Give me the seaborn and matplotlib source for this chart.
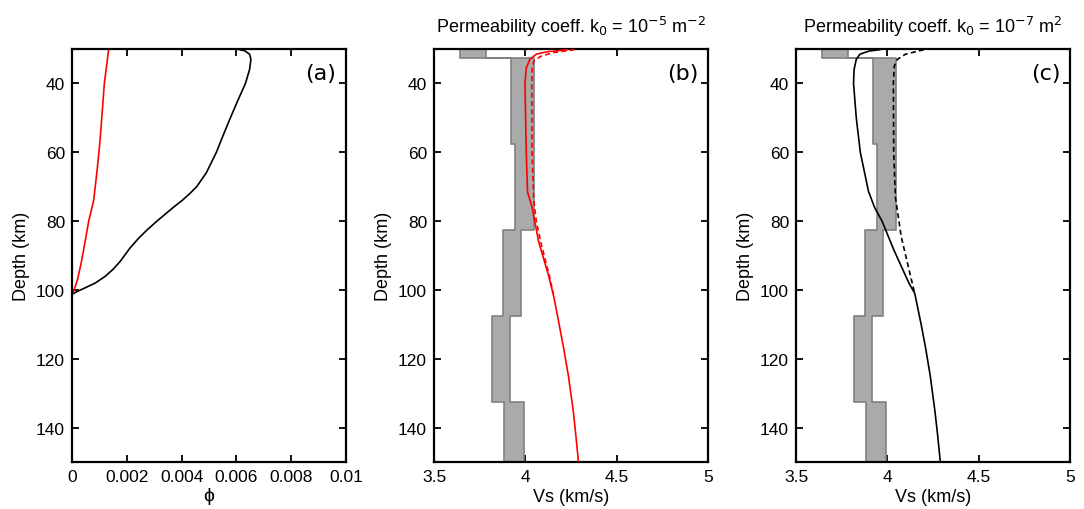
import matplotlib
matplotlib.use("Agg")
import matplotlib.pyplot as plt
import seaborn as sns

# porosity profiles, panel (a)
phi_black_depth = [30, 30.5, 31.5, 33, 36, 40, 45, 50, 56, 60, 66, 70, 72, 74, 76, 78, 80, 82.5, 85, 88,
                   91.7, 94, 96, 98, 99.5, 100.5, 101.3, 150]
phi_black = [0.0060, 0.0063, 0.00648, 0.00653, 0.00648, 0.00633, 0.00605, 0.00578, 0.00547, 0.00527,
             0.0049, 0.00455, 0.0043, 0.00402, 0.0037, 0.0034, 0.0031, 0.00275, 0.00243, 0.0021,
             0.00176, 0.0015, 0.00122, 0.00085, 0.00045, 0.00018, 0.0, 0.0]
phi_red_depth = [30, 40, 56, 65, 74, 80, 85, 92, 97, 100, 101.5, 150]
phi_red = [0.00134, 0.00118, 0.00103, 0.00092, 0.00079, 0.00061, 0.0005, 0.00034, 0.0002, 0.00008, 0.0, 0.0]

# observed Vs range (grey band), layer tops
band_depth = [30, 32.5, 57.5, 82.5, 107.5, 132.5, 150]
band_min = [3.64, 3.92, 3.945, 3.88, 3.82, 3.885, 3.885]
band_max = [3.785, 4.045, 4.05, 3.975, 3.915, 3.99, 3.99]

# panel (b), k0 = 1e-5
b_solid_depth = [30.2, 30.8, 31.5, 33, 35.5, 40, 60, 71.5, 76, 86, 96, 102, 110, 117, 125, 135, 142, 150]
b_solid_vs = [4.23, 4.12, 4.06, 4.025, 4.005, 3.998, 4.005, 4.012, 4.037, 4.073, 4.128, 4.156,
              4.185, 4.21, 4.236, 4.262, 4.276, 4.291]
b_dash_depth = [30.2, 31, 32, 33.2, 35, 40, 60, 73.8, 80, 86.4, 96, 101]
b_dash_vs = [4.27, 4.16, 4.09, 4.05, 4.038, 4.035, 4.037, 4.046, 4.06, 4.086, 4.132, 4.153]

# panel (c), k0 = 1e-7
c_solid_depth = [30.2, 30.6, 31.5, 33, 36, 40, 50, 60, 71.4, 76, 80, 88.3, 98, 101, 110, 117, 125, 135,
                 142, 150]
c_solid_vs = [3.96, 3.9, 3.85, 3.83, 3.818, 3.815, 3.83, 3.852, 3.897, 3.93, 3.971, 4.035, 4.118,
              4.15, 4.185, 4.21, 4.235, 4.26, 4.275, 4.29]
c_dash_depth = [30.2, 31.5, 33, 35, 40, 60, 73, 84.5, 96, 101]
c_dash_vs = [4.2, 4.1, 4.055, 4.038, 4.033, 4.035, 4.044, 4.076, 4.127, 4.15]

sns.set_style("ticks")
plt.rcParams["font.family"] = ["Liberation Sans", "DejaVu Sans"]
plt.rcParams["text.color"] = "black"
plt.rcParams["axes.labelcolor"] = "black"

fig = plt.figure(figsize=(10.84, 5.10), dpi=100)
W, H = 1084, 510
axes = [fig.add_axes([l / W, 1 - 463 / H, 274 / W, 413 / H]) for l in (72, 434, 796)]


def style(ax, label):
    ax.set_ylim(150, 30)
    ax.set_yticks([40, 60, 80, 100, 120, 140])
    ax.set_ylabel("Depth (km)", fontsize=13, labelpad=4)
    ax.tick_params(direction="in", top=True, right=True, length=5, width=1.3, labelsize=12.5,
                   colors="black", pad=5)
    for s in ax.spines.values():
        s.set_linewidth(1.6)
        s.set_color("black")
    ax.text(0.965, 0.965, label, transform=ax.transAxes, ha="right", va="top",
            fontsize=16, family="DejaVu Sans")


def band(ax):
    ax.fill_betweenx(band_depth, band_min, band_max, step="post",
                     facecolor="#aaaaaa", edgecolor="#808080", linewidth=1.2, zorder=1)


# (a)
ax = axes[0]
sns.lineplot(x=phi_black, y=phi_black_depth, sort=False, estimator=None, color="black", lw=1.2, ax=ax)
sns.lineplot(x=phi_red, y=phi_red_depth, sort=False, estimator=None, color="red", lw=1.2, ax=ax)
ax.set_xlim(0, 0.01)
ax.set_xticks([0, 0.002, 0.004, 0.006, 0.008, 0.01])
ax.set_xticklabels(["0", "0.002", "0.004", "0.006", "0.008", "0.01"])
ax.set_xlabel("ϕ", fontsize=14, labelpad=2)
style(ax, "(a)")

# (b) and (c)
panels = [
    (axes[1], b_solid_depth, b_solid_vs, b_dash_depth, b_dash_vs, "red",
     r"Permeability coeff. k$_0$ = 10$^{-5}$ m$^{-2}$", "(b)"),
    (axes[2], c_solid_depth, c_solid_vs, c_dash_depth, c_dash_vs, "black",
     r"Permeability coeff. k$_0$ = 10$^{-7}$ m$^{2}$", "(c)"),
]
for ax, sd, sv, dd, dv, col, title, lab in panels:
    band(ax)
    sns.lineplot(x=dv, y=dd, sort=False, estimator=None, color=col, lw=1.2,
                 linestyle=(0, (3, 2)), ax=ax, zorder=3)
    sns.lineplot(x=sv, y=sd, sort=False, estimator=None, color=col, lw=1.2, ax=ax, zorder=4)
    ax.set_xlim(3.5, 5)
    ax.set_xticks([3.5, 4, 4.5, 5])
    ax.set_xticklabels(["3.5", "4", "4.5", "5"])
    ax.set_xlabel("Vs (km/s)", fontsize=13, labelpad=3)
    ax.set_title(title, fontsize=13, pad=12)
    style(ax, lab)

fig.savefig("out.png", dpi=100)
